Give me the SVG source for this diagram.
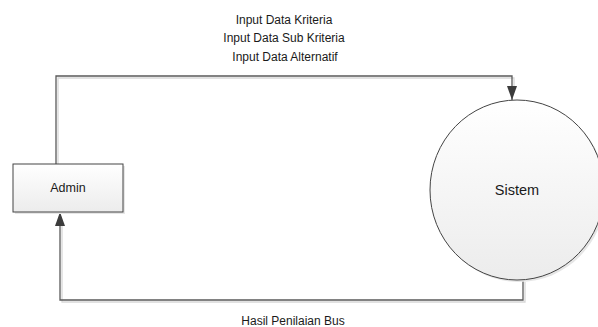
<svg xmlns="http://www.w3.org/2000/svg" width="598" height="327" viewBox="0 0 598 327">
<style>
.lbl{font-family:"Liberation Sans",Arial,sans-serif;font-size:12px;fill:#1a1a1a;text-anchor:middle}
.conn{fill:none;stroke:#5a5a5a;stroke-width:1.3}
.shadow{fill:none;stroke:#d8d8d8;stroke-width:1.3}
.node{stroke:#444;stroke-width:1}
</style>
<defs>
<linearGradient id="g" x1="0" y1="0" x2="0" y2="1">
<stop offset="0" stop-color="#ffffff"/>
<stop offset="1" stop-color="#ececec"/>
</linearGradient>
<marker id="arr" markerWidth="14" markerHeight="10" refX="14" refY="5" orient="auto" markerUnits="userSpaceOnUse" viewBox="0 0 14 10">
<path d="M0,0 L14,5 L0,10 Z" fill="#3c3c3c"/>
</marker>
</defs>
<rect width="598" height="327" fill="#ffffff"/>
<g id="connectors">
<path class="shadow" d="M58,164 V78 H514 V92"/>
<path class="shadow" d="M525,282 V302 H62 V220"/>
<path class="conn" d="M56,164 V76 H512 V100" marker-end="url(#arr)"/>
<path class="conn" d="M523,280 V300 H60 V212" marker-end="url(#arr)"/>
</g>
<g id="admin">
<rect x="15" y="166" width="110" height="48" fill="#e6e6e6"/>
<rect class="node" x="13" y="164" width="110" height="48" fill="url(#g)"/>
<text class="lbl" x="68" y="192" style="font-size:12.5px">Admin</text>
</g>
<g id="sistem">
<ellipse cx="519" cy="192" rx="87" ry="90" fill="#e6e6e6"/>
<ellipse class="node" cx="517" cy="190" rx="87" ry="90" fill="url(#g)"/>
<text class="lbl" x="517" y="195" style="font-size:14.5px">Sistem</text>
</g>
<g id="labels">
<text class="lbl" x="284" y="24">Input Data Kriteria</text>
<text class="lbl" x="284" y="42">Input Data Sub Kriteria</text>
<text class="lbl" x="285" y="61">Input Data Alternatif</text>
<text class="lbl" x="293" y="325">Hasil Penilaian Bus</text>
</g>
</svg>
